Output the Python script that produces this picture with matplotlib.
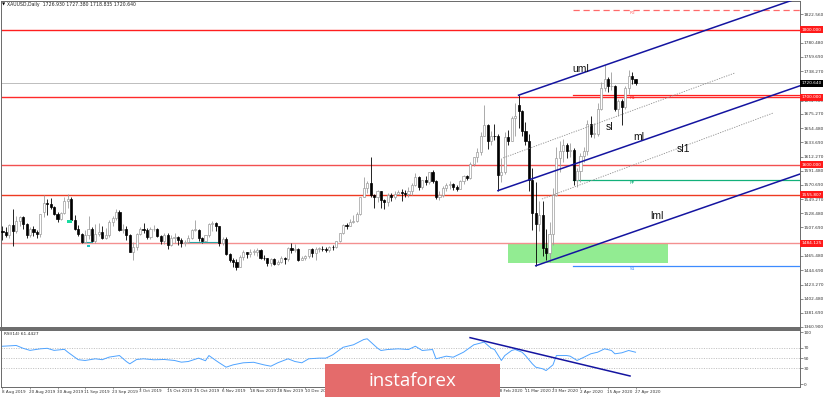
import numpy as np
import matplotlib.pyplot as plt
from matplotlib.patches import Rectangle
from matplotlib.transforms import blended_transform_factory

# XAUUSD daily, 8 Aug 2019 .. 27 Apr 2020 (one entry per bar)
opens = [1502, 1501, 1497, 1511, 1502, 1517, 1523, 1513, 1497, 1506, 1501, 1498, 1530, 1544, 1542, 1538, 1528,
         1520, 1529, 1547, 1550, 1519, 1506, 1498, 1486, 1497, 1506, 1488, 1498, 1501, 1492, 1497, 1516, 1522,
         1531, 1504, 1505, 1497,
         1472, 1479, 1498, 1506, 1504, 1494, 1505, 1506, 1495, 1488, 1497, 1481, 1492, 1493, 1489, 1484, 1486,
         1492, 1504, 1504, 1492, 1487, 1496,
         1513, 1514, 1509, 1484, 1491, 1469, 1459, 1456, 1449, 1464, 1472, 1468, 1472, 1472, 1474, 1463, 1462,
         1455, 1461, 1454, 1457,
         1463, 1461, 1477, 1474, 1475, 1460, 1463, 1465, 1475, 1470, 1476, 1476, 1475, 1474, 1479, 1478, 1487,
         1499, 1511, 1510, 1515,
         1517, 1528, 1552, 1566, 1574, 1556, 1553, 1562, 1548, 1545, 1556, 1553, 1557, 1560, 1558, 1557, 1562,
         1571, 1582, 1567, 1577, 1575,
         1589, 1576, 1553, 1556, 1566, 1570, 1572, 1567, 1565, 1576, 1583, 1580, 1602, 1611, 1619, 1643, 1659,
         1635, 1643, 1642,
         1585, 1590, 1641, 1636, 1669, 1688, 1680, 1650, 1636, 1577, 1529, 1513, 1526, 1477, 1470, 1498, 1555,
         1610, 1620, 1630, 1620, 1622,
         1577, 1591, 1613, 1620, 1660, 1646, 1646, 1683, 1713, 1727, 1716, 1717, 1683, 1694, 1686, 1713, 1731,
         1727]
highs = [1510, 1508, 1513, 1535, 1524, 1525, 1524, 1514, 1508, 1509, 1504, 1528, 1555, 1550, 1551, 1540, 1530,
         1530, 1552, 1557, 1552, 1526, 1511, 1500, 1504, 1524, 1508, 1512, 1514, 1510, 1507, 1518, 1525, 1535,
         1533, 1513, 1510, 1498,
         1486, 1500, 1508, 1514, 1507, 1508, 1511, 1507, 1497, 1499, 1499, 1496, 1499, 1495, 1492, 1489, 1496,
         1505, 1518, 1506, 1494, 1497, 1514,
         1517, 1515, 1510, 1494, 1493, 1470, 1463, 1461, 1467, 1474, 1472, 1476, 1476, 1477, 1475, 1467, 1463,
         1462, 1462, 1459, 1466,
         1464, 1478, 1484, 1483, 1477, 1465, 1467, 1476, 1477, 1479, 1478, 1480, 1478, 1480, 1482, 1488, 1500,
         1512, 1514, 1520, 1526,
         1530, 1553, 1582, 1576, 1611, 1557, 1563, 1562, 1550, 1558, 1559, 1561, 1563, 1564, 1563, 1567, 1574,
         1588, 1583, 1577, 1583, 1590,
         1592, 1577, 1562, 1569, 1574, 1576, 1574, 1571, 1578, 1585, 1585, 1604, 1612, 1625, 1649, 1689, 1661,
         1650, 1660, 1646,
         1610, 1649, 1652, 1673, 1692, 1703, 1681, 1664, 1645, 1595, 1575, 1547, 1546, 1505, 1516, 1566, 1627,
         1635, 1638, 1632, 1632, 1625,
         1595, 1617, 1627, 1666, 1672, 1662, 1691, 1723, 1747, 1730, 1738, 1718, 1697, 1698, 1716, 1740, 1738,
         1727]
lows = [1489, 1493, 1492, 1480, 1500, 1509, 1505, 1492, 1494, 1495, 1492, 1493, 1523, 1526, 1535, 1526, 1516,
        1518, 1527, 1536, 1516, 1504, 1495, 1485, 1485, 1490, 1486, 1485, 1495, 1490, 1490, 1494, 1510, 1518,
        1502, 1499, 1489, 1471,
        1459, 1474, 1496, 1500, 1490, 1490, 1502, 1494, 1483, 1483, 1476, 1480, 1485, 1481, 1478, 1480, 1484,
        1490, 1502, 1488, 1484, 1486, 1494,
        1503, 1503, 1480, 1481, 1467, 1456, 1449, 1445, 1449, 1460, 1462, 1464, 1467, 1466, 1461, 1459, 1451,
        1451, 1452, 1452, 1455,
        1454, 1458, 1470, 1472, 1458, 1459, 1460, 1462, 1464, 1460, 1472, 1473, 1472, 1472, 1474, 1477, 1486,
        1498, 1506, 1509, 1514,
        1516, 1526, 1552, 1558, 1553, 1537, 1545, 1536, 1535, 1540, 1546, 1549, 1557, 1546, 1553, 1552, 1556,
        1569, 1563, 1564, 1570, 1572,
        1573, 1550, 1548, 1553, 1562, 1565, 1563, 1562, 1564, 1572, 1578, 1579, 1598, 1604, 1615, 1643, 1624,
        1630, 1637, 1562,
        1575, 1586, 1630, 1636, 1642, 1655, 1643, 1630, 1562, 1504, 1451, 1502, 1465, 1460, 1456, 1482, 1554,
        1590, 1605, 1610, 1611, 1571,
        1567, 1575, 1604, 1614, 1641, 1640, 1643, 1681, 1709, 1708, 1711, 1680, 1672, 1659, 1682, 1705, 1719,
        1718]
closes = [1501, 1497, 1511, 1502, 1517, 1523, 1513, 1497, 1506, 1501, 1498, 1527, 1544, 1542, 1538, 1528, 1520,
          1529, 1547, 1550, 1519, 1506, 1498, 1486, 1497, 1506, 1488, 1498, 1501, 1492, 1497, 1516, 1522, 1531,
          1504, 1505, 1497, 1472,
          1479, 1498, 1506, 1504, 1494, 1505, 1506, 1495, 1488, 1497, 1481, 1492, 1493, 1489, 1484, 1486, 1492,
          1504, 1504, 1492, 1487, 1496, 1513,
          1514, 1509, 1484, 1491, 1469, 1459, 1456, 1449, 1464, 1472, 1468, 1472, 1472, 1474, 1463, 1462, 1455,
          1461, 1454, 1457, 1463,
          1461, 1477, 1474, 1475, 1460, 1463, 1465, 1475, 1470, 1476, 1476, 1475, 1474, 1479, 1478, 1487, 1499,
          1511, 1510, 1515, 1517,
          1528, 1552, 1566, 1574, 1556, 1553, 1562, 1548, 1545, 1556, 1553, 1557, 1560, 1558, 1557, 1562, 1571,
          1582, 1567, 1577, 1575, 1589,
          1576, 1553, 1556, 1566, 1570, 1572, 1567, 1565, 1576, 1583, 1580, 1602, 1611, 1619, 1643, 1659, 1635,
          1643, 1642, 1585,
          1590, 1641, 1636, 1669, 1673, 1680, 1650, 1636, 1577, 1529, 1513, 1526, 1477, 1470, 1498, 1555, 1610,
          1620, 1630, 1620, 1622, 1577,
          1591, 1613, 1620, 1660, 1646, 1646, 1683, 1713, 1727, 1716, 1717, 1683, 1694, 1686, 1713, 1731, 1727,
          1720.64]

date_pos = [0, 8, 16, 24, 32, 40, 48, 56, 64, 72, 80, 88, 96, 104, 112, 120, 128, 136, 144, 152, 160, 168, 176, 184]
date_labels = ["8 Aug 2019", "20 Aug 2019", "30 Aug 2019", "11 Sep 2019", "23 Sep 2019", "3 Oct 2019",
               "15 Oct 2019", "25 Oct 2019", "6 Nov 2019", "18 Nov 2019", "28 Nov 2019", "10 Dec 2019",
               "20 Dec 2019", "3 Jan 2020", "15 Jan 2020", "27 Jan 2020", "6 Feb 2020", "18 Feb 2020",
               "28 Feb 2020", "11 Mar 2020", "23 Mar 2020", "2 Apr 2020", "15 Apr 2020", "27 Apr 2020"]

price_ticks = [1822.56, 1780.48, 1759.69, 1738.27, 1694.90, 1675.27, 1654.48, 1633.69, 1612.27, 1591.48,
               1570.69, 1549.27, 1528.48, 1507.69, 1465.48, 1444.69, 1423.27, 1402.48, 1381.69, 1360.90]

# horizontal support / resistance levels
levels = [1800.0, 1700.0, 1600.0, 1555.807, 1484.125]
level_colors = ["#ff1f1f", "#ff2a2a", "#f25050", "#ee3a22", "#f49090"]
last_price = 1720.64

# pivot levels (drawn from the end of March)
pivot_names = ["R2", "R1", "PP", "S1"]
pivot_values = [1828.9, 1703.3, 1577.7, 1450.6]
pivot_colors = ["#ff6a6a", "#ff2020", "#12b07a", "#3d8bff"]
pivot_start = 165.8

# pitchfork pivots: bar indices of A (low), B (high), C (low)
fork_a, fork_b, fork_c = 144, 150, 155

# dotted sliding parallels (bar index, price)
sl_x, sl_y = [145.5, 212.9], [1610.3, 1735.9]
sl1_x, sl1_y = [156.8, 224.0], [1549.6, 1676.7]

zone_x, zone_w = 146.9, 46.6
zone_lo, zone_hi = 1455.5, 1484.6

# RSI(14)
rsi_idx = [0, 4, 6, 8, 11, 13, 15, 18, 19, 22, 24, 27, 29, 31, 34, 36, 37, 39, 41, 44, 47, 50, 52, 54, 57, 59,
           60, 62, 63, 65, 67, 70, 73, 76, 78, 80, 83, 85, 87, 89, 92, 94, 96, 99, 102, 105, 106, 109, 110, 112,
           115, 118, 120, 122, 125, 126, 129, 131, 134, 137, 140, 142, 143, 145, 146, 148, 149, 151, 152, 154,
           155, 157, 158, 160, 161, 164, 165, 167, 169, 171, 173, 175, 177, 178, 180, 182, 184]
rsi_val = [73, 74.5, 69, 65, 68, 69, 65, 67, 61.5, 47, 45.5, 48.7, 47, 52, 55, 43.5, 39, 47.4, 48.7, 46.8, 47.4,
           45.5, 42.2, 43.5, 50, 45, 55, 45.5, 41, 32.5, 37, 41, 42, 37, 34.4, 41, 48.7, 43.5, 41, 48.7, 50, 50,
           56.5, 71, 75.8, 86, 87.4, 69.3, 64.8, 66.7, 68, 66.7, 73, 64.8, 66.7, 48.7, 53.8, 51.8, 61.5, 75.8,
           81, 69.3, 66.7, 45.5, 55, 64.8, 66.7, 61.5, 55, 39, 32.5, 29.4, 26, 37, 55, 55, 53.8, 45.5, 51.8, 58.4,
           61.5, 68, 64.8, 58.4, 60.3, 64.8, 61.44]
rsi_trend_x, rsi_trend_y = [135.9, 182.4], [89.6, 15.5]

W, H = 825, 397
fig = plt.figure(figsize=(8.25, 3.97), dpi=100)
fig.patch.set_facecolor("white")


def fx(px):
    return px / W


def fy(py):
    return 1 - py / H


ax = fig.add_axes([fx(0.5), fy(328), fx(799.5), (328 - 1) / H])
ax2 = fig.add_axes([fx(0.5), fy(387), fx(799.5), (387 - 330) / H])

xmin, xmax = -0.58, 231.8
ax.set_xlim(xmin, xmax)
ax.set_ylim(1359.0, 1842.2)
ax2.set_xlim(xmin, xmax)
ax2.set_ylim(-5.8, 104.4)

o = np.array(opens, float)
h = np.array(highs, float)
l = np.array(lows, float)
c = np.array(closes, float)
idx = np.arange(len(c))
up = c >= o

# candles
grey = "#9c9c9c"
ax.vlines(idx[up], l[up], h[up], color=grey, lw=0.6, zorder=3)
ax.vlines(idx[~up], l[~up], h[~up], color="black", lw=0.6, zorder=3)
body_lo = np.minimum(o, c)
body_h = np.maximum(np.abs(c - o), 0.9)
ax.bar(idx[up], body_h[up], bottom=body_lo[up], width=0.62, facecolor="white",
       edgecolor=grey, linewidth=0.5, zorder=4)
ax.bar(idx[~up], body_h[~up], bottom=body_lo[~up], width=0.62, facecolor="black",
       edgecolor="black", linewidth=0.5, zorder=4)

# levels
ax.axhline(last_price, color="#bdbdbd", lw=0.7, zorder=1)
for lv, col in zip(levels, level_colors):
    ax.axhline(lv, color=col, lw=1.0, zorder=2)

for name, val, col in zip(pivot_names, pivot_values, pivot_colors):
    ls = (0, (5, 3)) if name == "R2" else "-"
    ax.plot([pivot_start, xmax], [val, val], color=col, lw=0.9, ls=ls, zorder=2)
    ax.text(182.4, val - 4.5, name, color=col, fontsize=3.2, ha="left", va="center", zorder=5)

ax.add_patch(Rectangle((zone_x, zone_lo), zone_w, zone_hi - zone_lo, facecolor="#92ec92",
                       edgecolor="none", zorder=1))

# small leftover markers
ax.add_patch(Rectangle((18.7, 1513.8), 1.6, 4.4, facecolor="#19dba0", edgecolor="none", zorder=5))
ax.add_patch(Rectangle((24.6, 1478.7), 0.8, 2.5, facecolor="#1cc4c4", edgecolor="none", zorder=5))
ax.plot([23.0, 25.9], [1485.5, 1485.5], color="#2aa5a5", lw=0.8, zorder=3)
ax.plot([53.9, 62.4], [1486.3, 1486.3], color="#2aa5a5", lw=0.8, zorder=3)

# Andrews pitchfork
ax_, ay_ = fork_a, l[fork_a]
bx_, by_ = fork_b, h[fork_b]
cx_, cy_ = fork_c, l[fork_c]
mx_, my_ = (bx_ + cx_) / 2, (by_ + cy_) / 2
slope = (my_ - ay_) / (mx_ - ax_)
navy = "#1414a0"
for x0, y0 in [(ax_, ay_), (bx_, by_), (cx_, cy_)]:
    ax.plot([x0, xmax], [y0, y0 + slope * (xmax - x0)], color=navy, lw=1.1, zorder=6)
ax.plot(sl_x, sl_y, color="#8c8c8c", lw=0.6, ls=(0, (1.5, 1.5)), zorder=5)
ax.plot(sl1_x, sl1_y, color="#8c8c8c", lw=0.6, ls=(0, (1.5, 1.5)), zorder=5)

lab_kw = dict(fontsize=7.5, color="#111111", ha="left", va="center", family="Liberation Sans", zorder=7)
ax.text(165.6, 1741.7, "uml", **lab_kw)
ax.text(175.4, 1656.0, "sl", **lab_kw)
ax.text(183.3, 1641.3, "ml", **lab_kw)
ax.text(196.1, 1623.5, "sl1", **lab_kw)
ax.text(188.2, 1524.5, "lml", **lab_kw)

# price scale on the right
ax.yaxis.tick_right()
ax.set_yticks(price_ticks)
ax.set_yticklabels([f"{v:.3f}" for v in price_ticks])
ax.tick_params(axis="y", labelsize=3.1, length=1.8, width=0.4, pad=1.0, colors="#333333")
ax.set_xticks([])
tr = blended_transform_factory(ax.transAxes, ax.transData)
for lv in levels:
    ax.text(1.0016, lv, f"{lv:.3f}", transform=tr, fontsize=3.1, color="white", ha="left", va="center",
            bbox=dict(boxstyle="square,pad=0.35", facecolor="#ff1a1a", edgecolor="none"), zorder=8,
            clip_on=False)
ax.text(1.0016, last_price, f"{last_price:.3f}", transform=tr, fontsize=3.1, color="white", ha="left",
        va="center", bbox=dict(boxstyle="square,pad=0.35", facecolor="black", edgecolor="none"), zorder=8,
        clip_on=False)

# RSI panel
for lv in (70, 50, 30):
    ax2.axhline(lv, color="#a8a8a8", lw=0.5, ls=(0, (1.5, 2)), zorder=1)
ax2.plot(rsi_idx, rsi_val, color="#4ea3ff", lw=0.7, zorder=3)
ax2.plot(rsi_trend_x, rsi_trend_y, color=navy, lw=1.1, zorder=4)
ax2.text(0.004, 0.93, "RSI(14) 61.4427", transform=ax2.transAxes, fontsize=3.1, color="#222222",
         ha="left", va="center")
ax2.yaxis.tick_right()
ax2.set_yticks([0, 30, 50, 70, 100])
ax2.set_yticklabels(["0", "30", "50", "70", "100"])
ax2.tick_params(axis="y", labelsize=3.1, length=1.8, width=0.4, pad=1.0, colors="#333333")
ax2.set_xticks(date_pos)
ax2.set_xticklabels([])
ax2.tick_params(axis="x", length=1.5, width=0.4, colors="#555555")
trd = blended_transform_factory(ax2.transData, fig.transFigure)
for p, s in zip(date_pos, date_labels):
    ax2.text(p - 0.2, fy(391.5), s, transform=trd, fontsize=3.0, color="#333333", ha="left", va="center",
             clip_on=False)

for a in (ax, ax2):
    for sp in a.spines.values():
        sp.set_color("#6a6a6a")
        sp.set_linewidth(0.7)
ax.spines["bottom"].set_linewidth(1.4)
ax2.spines["top"].set_linewidth(1.4)

# header line
fig.text(fx(2), fy(4.5), "\u25bc", fontsize=3, color="black", ha="left", va="center")
fig.text(fx(7), fy(4.5), "XAUUSD,Daily  1726.930 1727.380 1718.835 1720.640", fontsize=3.3,
         color="#222222", ha="left", va="center")

# watermark
fig.add_artist(Rectangle((fx(325), 0), fx(175), (397 - 364) / H, transform=fig.transFigure,
                         facecolor="#e46b6b", edgecolor="none", zorder=10))
fig.text(fx(412.5), fy(381), "instaforex", fontsize=13.5, color="white", ha="center", va="center",
         family="Open Sans", zorder=11)

fig.savefig("out.png", dpi=100)
